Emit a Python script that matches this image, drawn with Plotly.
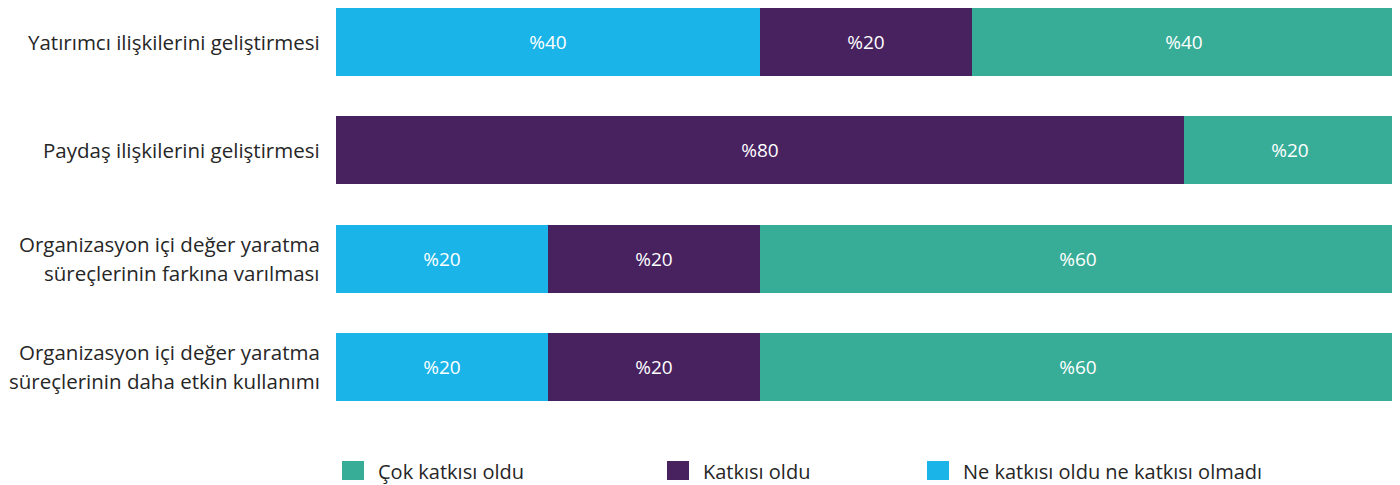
import plotly.graph_objects as go

categories = [
    ["Yatırımcı ilişkilerini geliştirmesi"],
    ["Paydaş ilişkilerini geliştirmesi"],
    ["Organizasyon içi değer yaratma", "süreçlerinin farkına varılması"],
    ["Organizasyon içi değer yaratma", "süreçlerinin daha etkin kullanımı"],
]
cat_keys = ["c1", "c2", "c3", "c4"]

series_names = ["Ne katkısı oldu ne katkısı olmadı", "Katkısı oldu", "Çok katkısı oldu"]
ne_values = [40, 0, 20, 20]
katkisi_values = [20, 80, 20, 20]
cok_values = [40, 20, 60, 60]

colors = ["#1AB4E8", "#48215F", "#37AD98"]
FONT = "Open Sans"
W, H = 1392, 477  # page body adds an 8px offset
ML, MR, MT, MB = 328, 4, 0, 65
PW, PH = W - ML - MR, H - MT - MB

fig = go.Figure()
for name, vals, col in zip(series_names, [ne_values, katkisi_values, cok_values], colors):
    fig.add_trace(go.Bar(
        y=cat_keys, x=vals, name=name, orientation="h",
        marker=dict(color=col, line=dict(width=0)),
        text=[f"%{v}" if v else "" for v in vals],
        textposition="inside", insidetextanchor="middle", textangle=0,
        constraintext="none",
        textfont=dict(family=FONT, size=19, color="#FFFFFF"),
        hoverinfo="skip", showlegend=False,
    ))

# category labels as annotations (to control line spacing)
annotations = []
for key, lines in zip(cat_keys, categories):
    n = len(lines)
    for i, line in enumerate(lines):
        shift = (n - 1) / 2 * 29 - i * 29
        annotations.append(dict(
            x=0, xref="paper", y=key, yref="y", yshift=shift, xshift=-14,
            text=line, showarrow=False, xanchor="right", yanchor="middle",
            font=dict(family=FONT, size=20.5, color="#262626"),
        ))

# manual legend (order: Çok, Katkısı, Ne) in figure pixel positions
def px_x(fx):
    return (fx - ML) / PW

def px_y(fy):
    return (MT + PH - fy) / PH

legend_order = [2, 1, 0]
legend_sq_x = [334, 659, 919]
LEG_Y = 463
shapes = []
for idx, sx in zip(legend_order, legend_sq_x):
    shapes.append(dict(type="rect", xref="paper", yref="paper",
                       x0=px_x(sx), x1=px_x(sx + 22), y0=px_y(LEG_Y + 9), y1=px_y(LEG_Y - 10),
                       fillcolor=colors[idx], line=dict(width=0)))
    annotations.append(dict(
        x=px_x(sx + 34), xref="paper", y=px_y(LEG_Y), yref="paper",
        text=series_names[idx], showarrow=False, xanchor="left", yanchor="middle",
        font=dict(family=FONT, size=20, color="#262626"),
    ))

fig.update_layout(
    width=W, height=H,
    margin=dict(l=ML, r=MR, t=MT, b=MB),
    barmode="stack", bargap=0.372,
    plot_bgcolor="white", paper_bgcolor="white",
    xaxis=dict(range=[0, 100], visible=False, fixedrange=True),
    yaxis=dict(categoryorder="array", categoryarray=cat_keys,
               range=[3.4893, -0.3139], showticklabels=False, showgrid=False,
               zeroline=False, ticks=""),
    annotations=annotations,
    shapes=shapes,
    showlegend=False,
)

fig.write_html("out.html")
